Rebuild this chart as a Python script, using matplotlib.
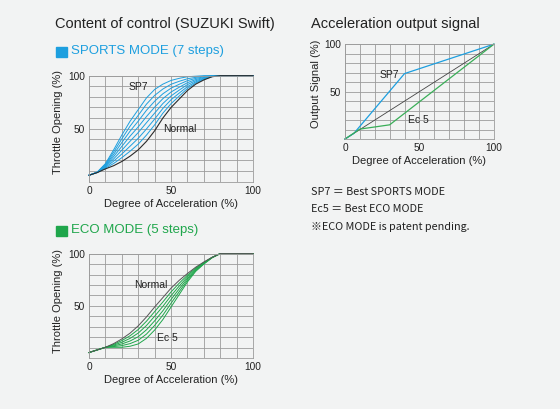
import matplotlib.pyplot as plt
from matplotlib.patches import Rectangle

plt.rcParams['font.family'] = ['Liberation Sans', 'DejaVu Sans']

BG = "#f2f3f3"
BLUE = "#1d9fdf"
GREEN = "#1fa64b"
GRID = "#9b9b9b"

# throttle curves, sampled every 5 % of acceleration from 0 to 80, flat 100 after
accel = [0, 5, 10, 15, 20, 25, 30, 35, 40, 45, 50, 55, 60, 65, 70, 75, 80, 100]

sports_normal = [6, 8.5, 12, 15, 19, 24, 30, 38, 48, 60, 70, 78, 86, 92, 96, 99, 100, 100]
sports_steps = [
    [6, 8.6, 12.7, 17.1, 22.6, 28.7, 35.4, 43.9, 53.6, 64.6, 73.6, 80.8, 87.9, 93.1, 96.6, 99.1, 100, 100],
    [6, 8.6, 13.4, 19.3, 26.1, 33.4, 40.9, 49.7, 59.1, 69.1, 77.3, 83.6, 89.7, 94.1, 97.1, 99.3, 100, 100],
    [6, 8.7, 14.1, 21.4, 29.7, 38.1, 46.3, 55.6, 64.7, 73.7, 80.9, 86.4, 91.6, 95.2, 97.7, 99.4, 100, 100],
    [6, 8.8, 14.9, 23.6, 33.3, 42.9, 51.7, 61.4, 70.3, 78.3, 84.6, 89.1, 93.4, 96.3, 98.3, 99.6, 100, 100],
    [6, 8.9, 15.6, 25.7, 36.9, 47.6, 57.1, 67.3, 75.9, 82.9, 88.2, 91.9, 95.3, 97.4, 98.9, 99.7, 100, 100],
    [6, 8.9, 16.3, 27.9, 40.4, 52.3, 62.6, 73.1, 81.4, 87.4, 91.9, 94.7, 97.1, 98.4, 99.4, 99.9, 100, 100],
    [6, 9, 17, 30, 44, 57, 68, 79, 87, 92, 95.5, 97.5, 99, 99.5, 100, 100, 100, 100],  # SP7
]

eco_normal = [5.5, 8, 10.5, 14, 18.5, 24, 31, 39.5, 49, 58, 67, 74.5, 81, 87, 92, 96.5, 100, 100]
eco_steps = [
    [5.5, 8, 10.5, 13.3, 16.9, 21.5, 27.5, 35.4, 44.6, 53.8, 63.4, 71.8, 79.4, 86.2, 91.6, 96.4, 100, 100],
    [5.5, 8, 10.5, 12.6, 15.3, 19.0, 24.1, 31.3, 40.2, 49.6, 59.8, 69.1, 77.8, 85.4, 91.2, 96.3, 100, 100],
    [5.5, 8, 10.5, 11.9, 13.7, 16.5, 20.6, 27.2, 35.8, 45.4, 56.2, 66.4, 76.2, 84.6, 90.8, 96.2, 100, 100],
    [5.5, 8, 10.5, 11.2, 12.1, 14.0, 17.2, 23.1, 31.4, 41.2, 52.6, 63.7, 74.6, 83.8, 90.4, 96.1, 100, 100],
    [5.5, 8, 10.5, 10.5, 10.5, 11.5, 13.7, 19, 27, 37, 49, 61, 73, 83, 90, 96, 100, 100],  # Ec5
]

# output signal
out_normal_x = [0, 100]
out_normal_y = [0, 100]
out_sp7_x = [0, 6, 40, 100]
out_sp7_y = [0, 6, 69, 100]
out_ec5_x = [0, 10, 30, 100]
out_ec5_y = [0, 10.5, 15, 100]

notes = ["SP7 ＝ Best SPORTS MODE", "Ec5 ＝ Best ECO MODE", "※ECO MODE is patent pending."]


def style_axes(ax, ylabel, label_y=0.56):
    ax.set_facecolor(BG)
    ax.set_xlim(0, 100)
    ax.set_ylim(0, 100)
    ax.set_xticks(range(0, 101, 10), minor=True)
    ax.set_yticks(range(0, 101, 10), minor=True)
    ax.set_xticks([0, 50, 100])
    ax.set_yticks([50, 100])
    ax.grid(True, which="both", color=GRID, lw=0.6)
    ax.tick_params(which="both", length=0, labelsize=7.3, colors="#222222", pad=3)
    for s in ax.spines.values():
        s.set_color(GRID)
        s.set_linewidth(0.6)
    ax.set_axisbelow(True)
    ax.set_xlabel("Degree of Acceleration (%)", fontsize=8, labelpad=2, color="#222222")
    ax.set_ylabel(ylabel, fontsize=8, color="#222222")
    ax.yaxis.set_label_coords(-0.16, label_y)


fig = plt.figure(figsize=(5.6, 4.09), dpi=100)
fig.patch.set_facecolor(BG)

# sports mode
ax1 = fig.add_axes([0.159, 0.556, 0.293, 0.259])
style_axes(ax1, "Throttle Opening (%)", 0.56)
for ys in sports_steps:
    ax1.plot(accel, ys, color=BLUE, lw=0.7, clip_on=False)
ax1.plot(accel, sports_normal, color="#2b2b2b", lw=0.8, clip_on=False)
ax1.text(30, 89.5, "SP7", fontsize=7.5, ha="center", va="center", color="#222222")
ax1.text(55.5, 49.5, "Normal", fontsize=7.5, ha="center", va="center", color="#222222")

# eco mode
ax2 = fig.add_axes([0.159, 0.124, 0.293, 0.256])
style_axes(ax2, "Throttle Opening (%)", 0.55)
for ys in eco_steps:
    ax2.plot(accel, ys, color=GREEN, lw=0.7, clip_on=False)
ax2.plot(accel, eco_normal, color="#555555", lw=0.7, clip_on=False)
ax2.text(37.5, 70, "Normal", fontsize=7.5, ha="center", va="center", color="#222222")
ax2.text(47.7, 19, "Ec 5", fontsize=7.5, ha="center", va="center", color="#222222")

# output signal
ax3 = fig.add_axes([0.616, 0.660, 0.266, 0.232])
style_axes(ax3, "Output Signal (%)", 0.58)
ax3.plot(out_normal_x, out_normal_y, color="#444444", lw=0.6, clip_on=False)
ax3.plot(out_sp7_x, out_sp7_y, color=BLUE, lw=0.9, clip_on=False)
ax3.plot(out_ec5_x, out_ec5_y, color="#3aae58", lw=0.9, clip_on=False)
ax3.text(29.5, 68, "SP7", fontsize=7.5, ha="center", va="center", color="#222222")
ax3.text(49, 20, "Ec 5", fontsize=7.5, ha="center", va="center", color="#222222")

# titles
fig.text(55 / 560, 1 - 24 / 409, "Content of control (SUZUKI Swift)", fontsize=10.5,
         va="center", color="#222222")
fig.text(311 / 560, 1 - 24 / 409, "Acceleration output signal", fontsize=10.5,
         va="center", color="#222222")
fig.patches.append(Rectangle((56 / 560, 1 - 57 / 409), 11 / 560, 10 / 409,
                             transform=fig.transFigure, color=BLUE, figure=fig))
fig.text(71 / 560, 1 - 51 / 409, "SPORTS MODE (7 steps)", fontsize=9.5, va="center", color=BLUE)
fig.patches.append(Rectangle((56 / 560, 1 - 236 / 409), 11 / 560, 10 / 409,
                             transform=fig.transFigure, color=GREEN, figure=fig))
fig.text(71 / 560, 1 - 230 / 409, "ECO MODE (5 steps)", fontsize=9.5, va="center", color=GREEN)

for i, line in enumerate(notes):
    fig.text(311 / 560, 1 - (192 + i * 17.5) / 409, line, fontsize=7.8, va="center",
             color="#222222", family=["Noto Sans CJK JP", "DejaVu Sans"])

fig.savefig("out.png", dpi=100, facecolor=BG)
